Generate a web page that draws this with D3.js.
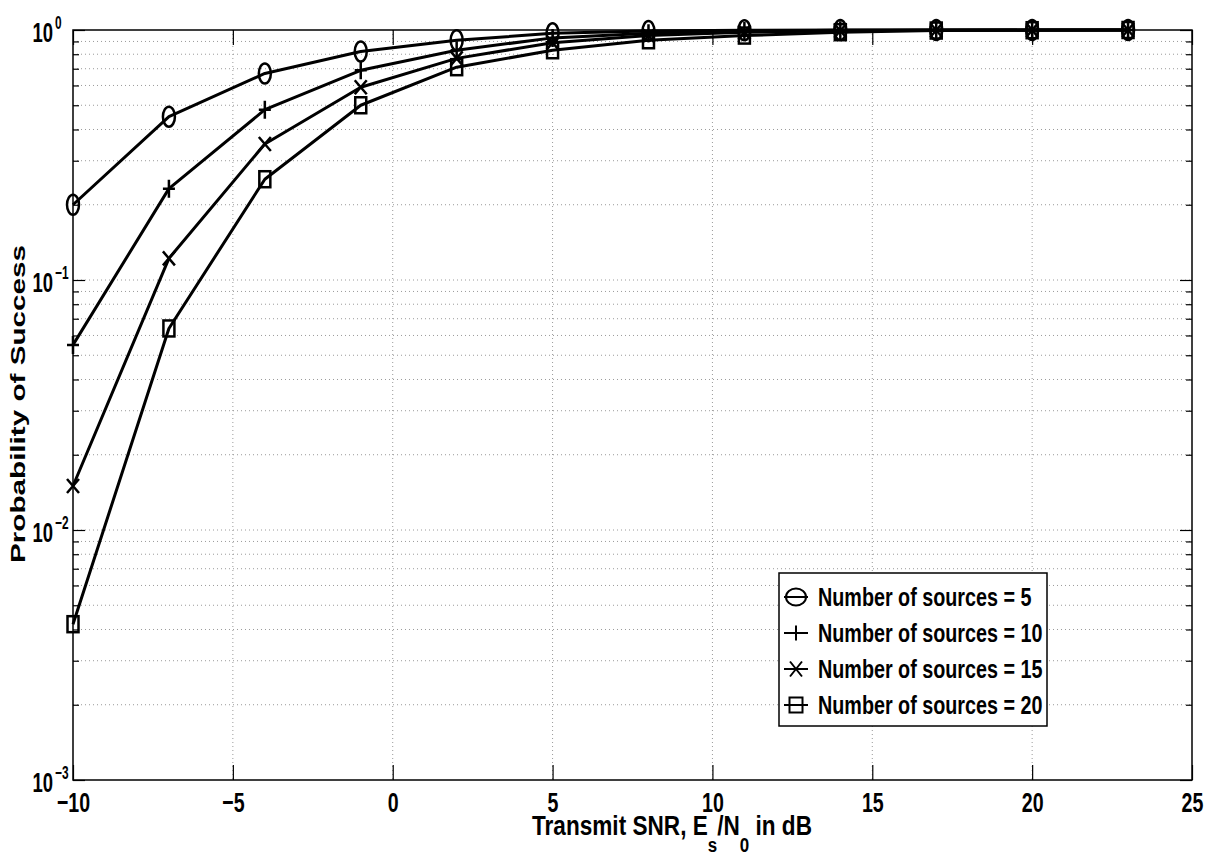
<!DOCTYPE html>
<html>
<head>
<meta charset="utf-8">
<script src="https://cdn.jsdelivr.net/npm/d3@7"></script>
<style>
  body { margin: 0; background: #fff; }
  svg { display: block; background: #fff; }
  text { font-family: "Liberation Sans", Arial, Helvetica, sans-serif; font-weight: bold; fill: #000; }
</style>
</head>
<body>
<svg id="chart" width="1214" height="861"></svg>
<script>
// data
const snr = [-10, -7, -4, -1, 2, 5, 8, 11, 14, 17, 20, 23];
const src5  = [0.20,   0.45,  0.67,  0.82, 0.91, 0.97, 0.99, 0.997, 0.999, 1.0,   1.0,   1.0];
const src10 = [0.055,  0.232, 0.48,  0.69, 0.83, 0.93, 0.97, 0.99,  0.997, 0.999, 1.0,   1.0];
const src15 = [0.015,  0.122, 0.35,  0.59, 0.77, 0.89, 0.95, 0.98,  0.993, 0.998, 0.999, 1.0];
const src20 = [0.0042, 0.064, 0.253, 0.50, 0.71, 0.83, 0.91, 0.95,  0.98,  0.995, 0.998, 1.0];

const seriesNames  = ["Number of sources = 5", "Number of sources = 10", "Number of sources = 15", "Number of sources = 20"];
const seriesShapes = ["circle", "plus", "cross", "square"];
const xTicks = [-10, -5, 0, 5, 10, 15, 20, 25];
const yDecades = [1e-3, 1e-2, 1e-1, 1];
const yExps = ["\u22123", "\u22122", "\u22121", "0"];

const allSeries = [src5, src10, src15, src20];

const svg = d3.select("#chart");
const pLeft = 73, pRight = 1192, pTop = 30, pBottom = 780;

const x = d3.scaleLinear().domain([-10, 25]).range([pLeft, pRight]);
const y = d3.scaleLog().domain([1e-3, 1]).range([pBottom, pTop]);

const yAll = y.ticks();   // 1e-3, 2e-3 ... 1
const yMinor = yAll.filter(v => !yDecades.some(d => Math.abs(d - v) / d < 1e-9));

// dotted grid
const grid = svg.append("g").attr("stroke", "#9a9a9a").attr("stroke-width", 1).attr("stroke-dasharray", "1,3");
grid.selectAll("line.gx").data(xTicks.slice(1, -1)).enter().append("line")
    .attr("x1", d => x(d)).attr("x2", d => x(d)).attr("y1", pTop).attr("y2", pBottom);
grid.selectAll("line.gy").data(yAll.slice(1, -1)).enter().append("line")
    .attr("y1", d => y(d)).attr("y2", d => y(d)).attr("x1", pLeft).attr("x2", pRight);

// axes (ticks pointing inwards like matlab)
const bottomAxis = svg.append("g").attr("transform", `translate(0,${pBottom})`)
    .call(d3.axisBottom(x).tickValues(xTicks).tickSizeInner(-15).tickSizeOuter(0).tickFormat(d3.format("d")));
svg.append("g").attr("transform", `translate(0,${pTop})`)
    .call(d3.axisTop(x).tickValues(xTicks).tickSizeInner(-15).tickSizeOuter(0).tickFormat(""));
svg.append("g").attr("transform", `translate(${pLeft},0)`)
    .call(d3.axisLeft(y).tickValues(yMinor).tickSizeInner(-6).tickSizeOuter(0).tickFormat(""));
svg.append("g").attr("transform", `translate(${pLeft},0)`)
    .call(d3.axisLeft(y).tickValues(yDecades).tickSizeInner(-12).tickSizeOuter(0).tickFormat(""));
svg.append("g").attr("transform", `translate(${pRight},0)`)
    .call(d3.axisRight(y).tickValues(yMinor).tickSizeInner(-6).tickSizeOuter(0).tickFormat(""));
svg.append("g").attr("transform", `translate(${pRight},0)`)
    .call(d3.axisRight(y).tickValues(yDecades).tickSizeInner(-12).tickSizeOuter(0).tickFormat(""));
svg.selectAll(".domain").remove();
svg.selectAll(".tick line").attr("stroke", "#000").attr("stroke-width", 1.2);

bottomAxis.attr("font-family", null).attr("font-size", null);
bottomAxis.selectAll(".tick text")
    .attr("y", 32).attr("dy", 0)
    .attr("font-size", 28)
    .attr("transform", "scale(0.7,1)")
    .style("fill", "#000");

// y labels 10^k
const yLab = svg.append("g");
yDecades.forEach((d, i) => {
    const g = yLab.append("g").attr("transform", `translate(53,${y(d) + 12}) scale(0.66,1)`);
    g.append("text").attr("text-anchor", "end").attr("font-size", 28).text("10");
    g.append("text").attr("x", 3).attr("y", -13).attr("text-anchor", "start").attr("font-size", 18).text(yExps[i]);
});

// frame
svg.append("rect").attr("x", pLeft).attr("y", pTop).attr("width", pRight - pLeft).attr("height", pBottom - pTop)
    .attr("fill", "none").attr("stroke", "#000").attr("stroke-width", 1.5);

// markers
function marker(g, shape, cx, cy, s) {
    if (shape === "circle") {
        g.append("ellipse").attr("cx", cx).attr("cy", cy).attr("rx", s.rx).attr("ry", s.ry);
    } else if (shape === "plus") {
        g.append("path").attr("d", `M${cx - s.w},${cy}H${cx + s.w}M${cx},${cy - s.h}V${cy + s.h}`);
    } else if (shape === "cross") {
        g.append("path").attr("d", `M${cx - s.w},${cy - s.h}L${cx + s.w},${cy + s.h}M${cx - s.w},${cy + s.h}L${cx + s.w},${cy - s.h}`);
    } else {
        g.append("rect").attr("x", cx - s.w).attr("y", cy - s.h).attr("width", 2 * s.w).attr("height", 2 * s.h);
    }
}
const plotSize = { circle: {rx: 6, ry: 10}, plus: {w: 6, h: 9}, cross: {w: 6, h: 7}, square: {w: 5.5, h: 8} };
const legSize  = { circle: {rx: 10, ry: 8.5}, plus: {w: 6, h: 7.5}, cross: {w: 6, h: 7.5}, square: {w: 6.5, h: 7.5} };

const line = d3.line().x((d, i) => x(snr[i])).y(d => y(d));
allSeries.forEach((vals, k) => {
    svg.append("path").datum(vals).attr("d", line)
        .attr("fill", "none").attr("stroke", "#000").attr("stroke-width", 3).attr("stroke-linejoin", "round");
    const mg = svg.append("g").attr("fill", "none").attr("stroke", "#000").attr("stroke-width", 2.5);
    vals.forEach((v, i) => marker(mg, seriesShapes[k], x(snr[i]), y(v), plotSize[seriesShapes[k]]));
});

// legend
const leg = svg.append("g");
leg.append("rect").attr("x", 779).attr("y", 573).attr("width", 268).attr("height", 153)
    .attr("fill", "#fff").attr("stroke", "#000").attr("stroke-width", 1.5);
seriesNames.forEach((name, k) => {
    const ry = 597 + k * 36;
    leg.append("line").attr("x1", 784).attr("x2", 808).attr("y1", ry).attr("y2", ry)
        .attr("stroke", "#000").attr("stroke-width", 2);
    const mg = leg.append("g").attr("fill", "none").attr("stroke", "#000").attr("stroke-width", 2);
    marker(mg, seriesShapes[k], 796, ry, legSize[seriesShapes[k]]);
    leg.append("g").attr("transform", `translate(818,${ry + 9}) scale(0.76,1)`)
        .append("text").attr("font-size", 26).text(name);
});

// x title with subscripts
const xt = svg.append("g");
const xtText = xt.append("text").attr("font-size", 28);
xtText.append("tspan").text("Transmit SNR, E");
xtText.append("tspan").attr("font-size", 21).attr("dy", 17).text("s");
xtText.append("tspan").attr("dy", -17).text("/N");
xtText.append("tspan").attr("font-size", 21).attr("dy", 17).text("0");
xtText.append("tspan").attr("dy", -17).text(" in dB");
const natW = xtText.node().getComputedTextLength();
xt.attr("transform", `translate(532,835) scale(${280 / natW},1)`);

// y title
svg.append("text")
    .attr("transform", "translate(25,404) rotate(-90)")
    .attr("text-anchor", "middle")
    .attr("font-size", 21)
    .attr("textLength", 318)
    .attr("lengthAdjust", "spacingAndGlyphs")
    .text("Probability of Success");
</script>
</body>
</html>
